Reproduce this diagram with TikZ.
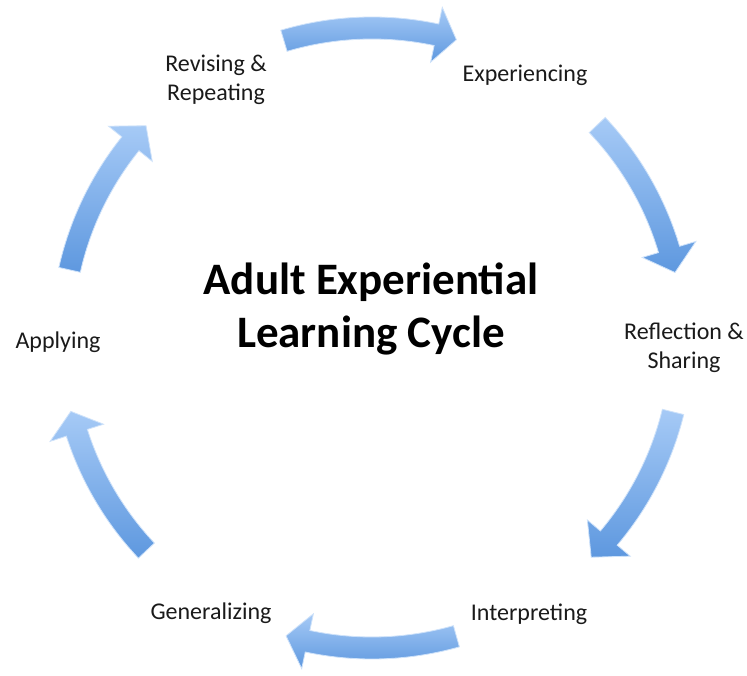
\documentclass[tikz,border=0pt]{standalone}
\usepackage{fontspec}
\setmainfont{Carlito}
\usetikzlibrary{calc}
\definecolor{arrowlight}{HTML}{A6CAF6}
\definecolor{arrowdark}{HTML}{5E98DF}
\definecolor{labeltext}{HTML}{1A1A1A}
\tikzset{
  arrowshade/.style={top color=arrowlight, bottom color=arrowdark, draw=arrowlight!55, line width=0.8pt},
  cyclelabel/.style={font=\fontsize{24pt}{29pt}\selectfont, text=labeltext, inner sep=0pt, align=center},
  titlelabel/.style={font=\fontsize{45pt}{53pt}\selectfont\bfseries, text=black, inner sep=0pt, align=center}
}
% #1 tail angle, #2 head-base angle, #3 tip angle
\newcommand{\cyclearrow}[3]{%
  \shade[arrowshade] ($(C)+(#1:321pt)$) arc[start angle=#1, end angle=#2, radius=321pt]
    -- ($(C)+(#2:338pt)$) -- ($(C)+(#3:310pt)$) -- ($(C)+(#2:282pt)$)
    -- ($(C)+(#2:299pt)$) arc[start angle=#2, end angle=#1, radius=299pt] -- cycle;}
\begin{document}
\begin{tikzpicture}[x=1pt,y=1pt]
\useasboundingbox (0,0) rectangle (747,675);
\fill[white] (0,0) rectangle (747,675);
\coordinate (C) at (372,337);
% arrows (clockwise)
\cyclearrow{106.5}{78}{74.2}
\cyclearrow{43.4}{16.6}{12.2}
\cyclearrow{-13.8}{-40.2}{-45}
\cyclearrow{-74.2}{-102}{-106.1}
\cyclearrow{-136.7}{-162.2}{-166.3}
\cyclearrow{167.3}{141.2}{136.8}
% labels
\node[titlelabel] (title) at (371,366) {Adult Experiential\\Learning Cycle};
\node[cyclelabel, anchor=base] (exp) at (525,593) {Experiencing};
\node[cyclelabel] (refl) at (684,327) {Reflection \&\\Sharing};
\node[cyclelabel, anchor=base] (interp) at (529,55) {Interpreting};
\node[cyclelabel, anchor=base] (gen) at (211,56) {Generalizing};
\node[cyclelabel, anchor=base] (appl) at (58,326) {Applying};
\node[cyclelabel] (rev) at (216,595) {Revising \&\\Repeating};
\end{tikzpicture}
\end{document}
